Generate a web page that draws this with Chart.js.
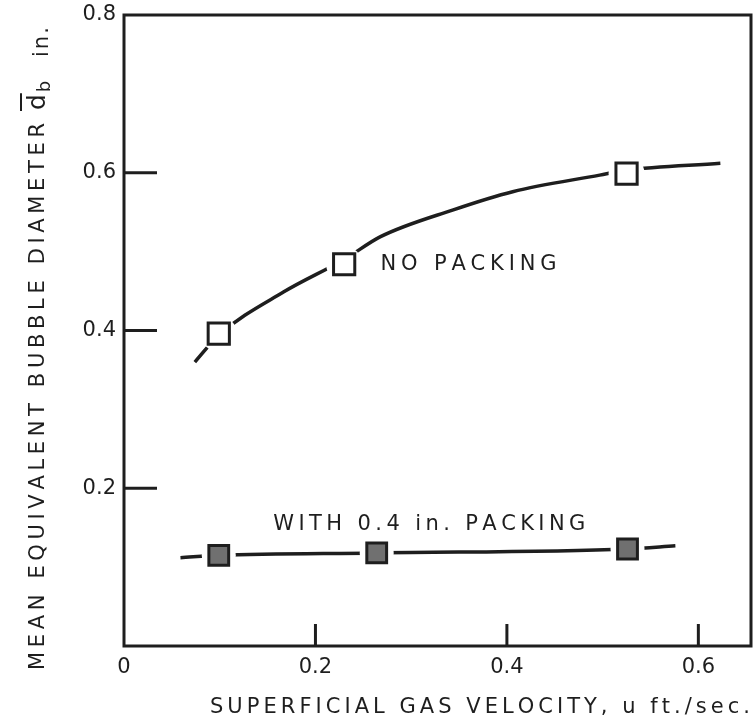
<!DOCTYPE html>
<html>
<head>
<meta charset="utf-8">
<script src="https://cdn.jsdelivr.net/npm/chart.js@4.4.1/dist/chart.umd.min.js"></script>
<style>
  html, body { margin: 0; padding: 0; background: #ffffff; overflow: hidden; }
  canvas { display: block; }
</style>
</head>
<body>
<canvas id="chart" width="755" height="726"></canvas>
<script>
// Axis ticks
const xTicks = [0, 0.2, 0.4, 0.6];
const yTicks = [0, 0.2, 0.4, 0.6, 0.8];

// Measured bubble diameters (in.) vs superficial gas velocity (ft/sec)
const noPackU = [0.099, 0.230, 0.525];
const noPackD = [0.396, 0.484, 0.599];
const packU = [0.099, 0.264, 0.526];
const packD = [0.115, 0.118, 0.123];

// Hand-drawn trend curves through the measurements
const noPackCurveU = [0.074, 0.099, 0.167, 0.230, 0.268, 0.344, 0.406, 0.497, 0.524, 0.623];
const noPackCurveD = [0.360, 0.394, 0.449, 0.490, 0.519, 0.553, 0.576, 0.597, 0.603, 0.612];
const packCurveU = [0.059, 0.099, 0.264, 0.526, 0.576];
const packCurveD = [0.112, 0.115, 0.118, 0.123, 0.127];

const seriesNames = ['NO PACKING', 'WITH 0.4 in. PACKING'];
const xTitle = 'SUPERFICIAL GAS VELOCITY, u ft./sec.';
const yTitleMain = 'MEAN EQUIVALENT BUBBLE DIAMETER';

const INK = '#1e1e1e';
const FONT = '"DejaVu Sans", sans-serif';

const pts = (xs, ys) => xs.map((x, i) => ({ x: x, y: ys[i] }));

// Draw text char by char with extra letter spacing
function spacedWidth(ctx, text, sp) {
  let w = 0;
  for (const ch of text) w += ctx.measureText(ch).width;
  return w + sp * (text.length - 1);
}
function fitSpacing(ctx, text, target) {
  return (target - spacedWidth(ctx, text, 0)) / (text.length - 1);
}
function drawSpaced(ctx, text, x, y, sp) {
  let cx = x;
  for (const ch of text) {
    ctx.fillText(ch, cx, y);
    cx += ctx.measureText(ch).width + sp;
  }
}

const framePlugin = {
  id: 'frameAndLabels',
  afterDatasetsDraw(chart) {
    const { ctx, chartArea: a, scales } = chart;
    const xs = scales.x, ys = scales.y;
    ctx.save();
    ctx.strokeStyle = INK;
    ctx.fillStyle = INK;
    ctx.lineCap = 'butt';

    // plot frame
    ctx.lineWidth = 3;
    ctx.strokeRect(a.left, a.top, a.right - a.left, a.bottom - a.top);

    // inward tick marks
    yTicks.forEach(v => {
      if (v === 0 || v === 0.8) return;
      const py = ys.getPixelForValue(v);
      ctx.beginPath(); ctx.moveTo(a.left, py); ctx.lineTo(a.left + 33, py); ctx.stroke();
    });
    xTicks.forEach(v => {
      if (v === 0) return;
      const px = xs.getPixelForValue(v);
      ctx.beginPath(); ctx.moveTo(px, a.bottom); ctx.lineTo(px, a.bottom - 22); ctx.stroke();
    });

    // curve labels
    ctx.textBaseline = 'alphabetic';
    ctx.textAlign = 'left';
    ctx.font = '21px ' + FONT;
    let sp = fitSpacing(ctx, seriesNames[0], 176);
    drawSpaced(ctx, seriesNames[0], xs.getPixelForValue(0.268), ys.getPixelForValue(0.477), sp);
    sp = fitSpacing(ctx, seriesNames[1], 312);
    drawSpaced(ctx, seriesNames[1], xs.getPixelForValue(0.156), ys.getPixelForValue(0.147), sp);

    // x axis title
    ctx.font = '21px ' + FONT;
    sp = fitSpacing(ctx, xTitle, 540);
    drawSpaced(ctx, xTitle, 210, 713, sp);

    // y axis title (rotated), with d-bar subscript b
    ctx.translate(36, 670);
    ctx.rotate(-Math.PI / 2);
    ctx.font = '21px ' + FONT;
    sp = fitSpacing(ctx, yTitleMain, 547);
    drawSpaced(ctx, yTitleMain, 0, 8, sp);
    ctx.font = '25px ' + FONT;
    ctx.fillText('d', 560, 9);
    const dw = ctx.measureText('d').width;
    ctx.lineWidth = 2;
    ctx.beginPath(); ctx.moveTo(559, -15); ctx.lineTo(560 + dw + 1, -15); ctx.stroke();
    ctx.font = '18px ' + FONT;
    ctx.fillText('b', 560 + dw + 2, 14);
    ctx.font = '21px ' + FONT;
    drawSpaced(ctx, 'in.', 613, 12, 2);
    ctx.restore();
  }
};

const lineDefaults = {
  showLine: true, fill: false, pointRadius: 0, pointHoverRadius: 0,
  borderColor: INK, borderWidth: 3.5, cubicInterpolationMode: 'monotone'
};

new Chart(document.getElementById('chart'), {
  type: 'scatter',
  data: {
    datasets: [
      Object.assign({ label: seriesNames[0] + ' curve', data: pts(noPackCurveU, noPackCurveD), order: 5 }, lineDefaults),
      Object.assign({ label: seriesNames[1] + ' curve', data: pts(packCurveU, packCurveD), order: 5 }, lineDefaults),
      {
        label: 'gap a', data: pts(noPackU, noPackD), order: 3,
        pointStyle: 'circle', pointRadius: 18, pointHoverRadius: 18,
        backgroundColor: '#ffffff', borderWidth: 0
      },
      {
        label: 'gap b', data: pts(packU, packD), order: 3,
        pointStyle: 'circle', pointRadius: 17, pointHoverRadius: 17,
        backgroundColor: '#ffffff', borderWidth: 0
      },
      {
        label: seriesNames[0], data: pts(noPackU, noPackD), order: 1,
        pointStyle: 'rect', pointRadius: 15, pointHoverRadius: 15,
        backgroundColor: '#ffffff', borderColor: INK, borderWidth: 3
      },
      {
        label: seriesNames[1], data: pts(packU, packD), order: 1,
        pointStyle: 'rect', pointRadius: 14, pointHoverRadius: 14,
        backgroundColor: '#707070', borderColor: INK, borderWidth: 3
      }
    ]
  },
  options: {
    responsive: false,
    maintainAspectRatio: false,
    devicePixelRatio: 1,
    animation: false,
    events: [],
    layout: { autoPadding: false, padding: { top: 15, right: 4, left: 0, bottom: 0 } },
    plugins: { legend: { display: false }, tooltip: { enabled: false } },
    scales: {
      x: {
        type: 'linear', min: 0, max: 0.655,
        afterBuildTicks: s => { s.ticks = xTicks.map(v => ({ value: v })); },
        afterFit: s => { s.height = 80; s.paddingLeft = 0; s.paddingRight = 0; },
        grid: { display: false, drawTicks: false },
        border: { display: false },
        ticks: {
          padding: 9, color: INK, font: { family: FONT, size: 21 },
          callback: v => (v === 0 ? '0' : v.toFixed(1))
        }
      },
      y: {
        type: 'linear', min: 0, max: 0.8,
        afterBuildTicks: s => { s.ticks = yTicks.map(v => ({ value: v })); },
        afterFit: s => { s.width = 124; s.paddingTop = 0; s.paddingBottom = 0; },
        grid: { display: false, drawTicks: false },
        border: { display: false },
        ticks: {
          padding: 8, color: INK, font: { family: FONT, size: 21 },
          callback: v => (v === 0 ? '' : v.toFixed(1))
        }
      }
    }
  },
  plugins: [framePlugin]
});
</script>
</body>
</html>
